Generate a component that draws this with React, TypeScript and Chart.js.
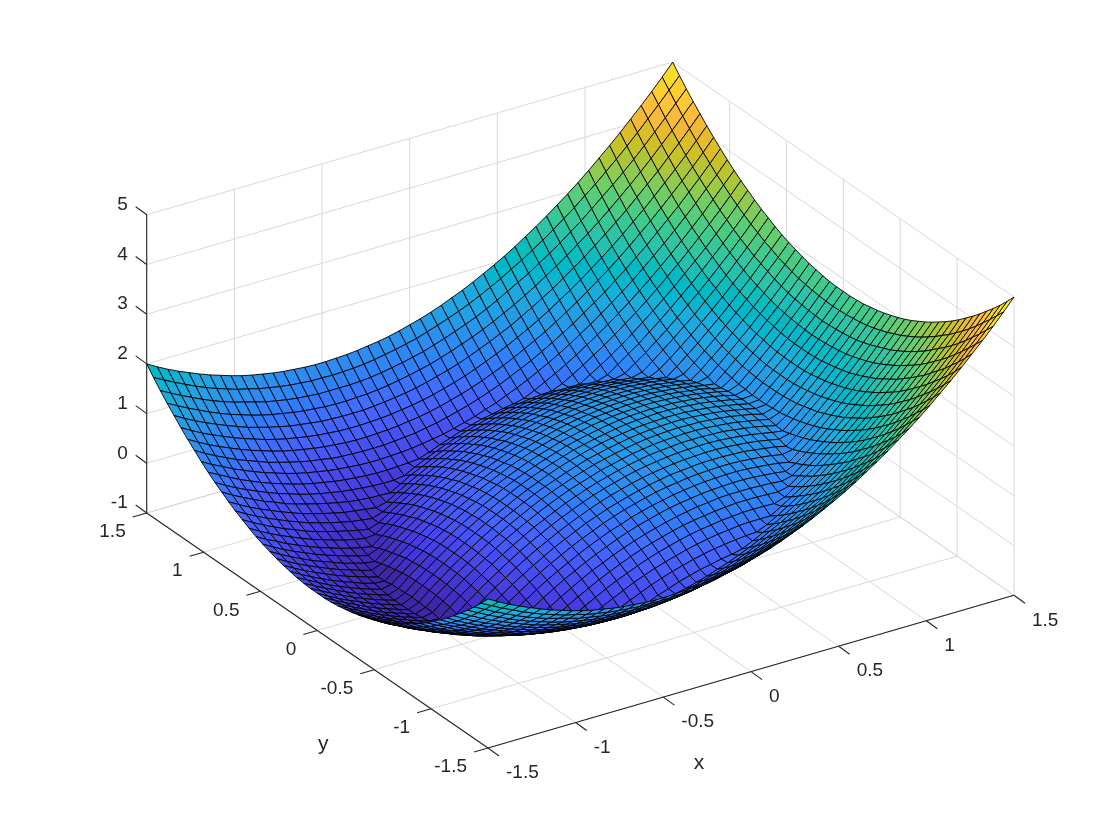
import React, { useEffect, useRef } from "react";
import { Chart, registerables } from "chart.js";
Chart.register(...registerables);

const xValues = [-1.5,-1.44,-1.38,-1.32,-1.26,-1.2,-1.14,-1.08,-1.02,-0.96,-0.9,-0.84,-0.78,-0.72,-0.66,-0.6,-0.54,-0.48,-0.42,-0.36,-0.3,-0.24,-0.18,-0.12,-0.06,0,0.06,0.12,0.18,0.24,0.3,0.36,0.42,0.48,0.54,0.6,0.66,0.72,0.78,0.84,0.9,0.96,1.02,1.08,1.14,1.2,1.26,1.32,1.38,1.44,1.5];
const yHalf = [0,0.06,0.12,0.18,0.24,0.3,0.36,0.42,0.48,0.54,0.6,0.66,0.72,0.78,0.84,0.9,0.96,1.02,1.08,1.14,1.2,1.26,1.32,1.38,1.44,1.5];
const zRows = [
[-.25,-.25,-.24,-.22,-.19,-.16,-.12,-.07,-.02,.04,.11,.19,.27,.36,.46,.56,.67,.79,.92,1.05,1.19,1.34,1.49,1.65,1.82,2],
[-.37,-.36,-.35,-.33,-.31,-.28,-.24,-.19,-.14,-.08,-.01,.07,.15,.24,.34,.44,.56,.67,.80,.93,1.07,1.22,1.38,1.54,1.71,1.88],
[-.48,-.47,-.46,-.44,-.42,-.39,-.35,-.30,-.25,-.18,-.12,-.04,.04,.13,.23,.33,.45,.57,.69,.82,.96,1.11,1.27,1.43,1.60,1.77],
[-.58,-.57,-.56,-.55,-.52,-.49,-.45,-.40,-.35,-.29,-.22,-.14,-.06,.03,.13,.23,.34,.46,.59,.72,.86,1.01,1.17,1.33,1.50,1.67],
[-.67,-.67,-.66,-.64,-.62,-.58,-.54,-.50,-.44,-.38,-.31,-.24,-.15,-.06,.03,.14,.25,.37,.49,.63,.77,.92,1.07,1.23,1.40,1.58],
[-.76,-.76,-.75,-.73,-.70,-.67,-.63,-.58,-.53,-.47,-.40,-.32,-.24,-.15,-.05,.05,.16,.28,.41,.54,.68,.83,.98,1.14,1.31,1.49],
[-.84,-.84,-.83,-.81,-.78,-.75,-.71,-.66,-.61,-.55,-.48,-.41,-.32,-.23,-.14,-.03,.08,.20,.33,.46,.60,.75,.90,1.06,1.23,1.41],
[-.91,-.91,-.90,-.88,-.86,-.82,-.78,-.74,-.68,-.62,-.55,-.48,-.40,-.31,-.21,-.10,.01,.13,.25,.39,.53,.67,.83,.99,1.16,1.34],
[-.98,-.98,-.97,-.95,-.92,-.89,-.85,-.80,-.75,-.69,-.62,-.54,-.46,-.37,-.27,-.17,-.06,.06,.19,.32,.46,.61,.76,.93,1.09,1.27],
[-.88,-.89,-.90,-.91,-.94,-.95,-.91,-.86,-.81,-.75,-.68,-.60,-.52,-.43,-.33,-.23,-.12,0,.13,.26,.40,.55,.70,.87,1.04,1.21],
[-.71,-.71,-.72,-.74,-.77,-.80,-.84,-.89,-.86,-.80,-.73,-.65,-.57,-.48,-.38,-.28,-.17,-.05,.08,.21,.35,.50,.65,.81,.98,1.16],
[-.55,-.55,-.56,-.58,-.60,-.64,-.68,-.72,-.78,-.84,-.77,-.70,-.62,-.53,-.43,-.32,-.21,-.09,.03,.17,.31,.45,.61,.77,.94,1.12],
[-.39,-.39,-.40,-.42,-.45,-.48,-.52,-.57,-.62,-.68,-.75,-.74,-.65,-.56,-.47,-.36,-.25,-.13,0,.13,.27,.42,.57,.73,.90,1.08],
[-.24,-.24,-.25,-.27,-.30,-.33,-.37,-.42,-.47,-.53,-.60,-.67,-.68,-.59,-.50,-.39,-.28,-.16,-.04,.10,.24,.39,.54,.70,.87,1.05],
[-.10,-.10,-.11,-.13,-.15,-.19,-.23,-.27,-.33,-.39,-.46,-.53,-.61,-.62,-.52,-.41,-.30,-.18,-.06,.08,.22,.36,.52,.68,.85,1.03],
[.04,.04,.03,.01,-.02,-.05,-.09,-.14,-.19,-.25,-.32,-.40,-.48,-.57,-.53,-.43,-.32,-.20,-.07,.06,.20,.35,.50,.66,.83,1.01],
[.17,.17,.15,.14,.11,.08,.04,-.01,-.06,-.12,-.19,-.27,-.35,-.44,-.54,-.44,-.33,-.21,-.08,.05,.19,.34,.49,.66,.83,1.00],
[.29,.29,.28,.26,.23,.20,.16,.11,.06,0,-.07,-.15,-.23,-.32,-.42,-.44,-.33,-.21,-.08,.05,.19,.34,.49,.66,.82,1.00],
[.40,.40,.39,.37,.35,.31,.27,.23,.17,.11,.04,-.03,-.12,-.21,-.30,-.41,-.32,-.20,-.08,.06,.20,.34,.50,.66,.83,1.01],
[.51,.51,.50,.48,.45,.42,.38,.33,.28,.22,.15,.08,-.01,-.10,-.20,-.30,-.31,-.19,-.06,.07,.21,.36,.51,.67,.84,1.02],
[.61,.61,.60,.58,.55,.52,.48,.43,.38,.32,.25,.17,.09,0,-.10,-.20,-.29,-.17,-.04,.09,.23,.38,.53,.69,.86,1.04],
[.70,.70,.69,.67,.65,.61,.57,.53,.47,.41,.34,.27,.18,.09,0,-.11,-.22,-.14,-.02,.12,.26,.41,.56,.72,.89,1.07],
[.79,.78,.77,.76,.73,.70,.66,.61,.56,.50,.43,.35,.27,.18,.08,-.02,-.13,-.11,.02,.15,.29,.44,.60,.76,.93,1.10],
[.87,.86,.85,.83,.81,.78,.74,.69,.64,.57,.51,.43,.35,.26,.16,.06,-.06,-.07,.06,.19,.33,.48,.64,.80,.97,1.14],
[.94,.93,.92,.90,.88,.85,.81,.76,.71,.65,.58,.50,.42,.33,.23,.13,.02,-.02,.11,.24,.38,.53,.69,.85,1.02,1.19],
[1,1,.99,.97,.94,.91,.87,.82,.77,.71,.64,.56,.48,.39,.29,.19,.08,.04,.17,.30,.44,.59,.74,.90,1.07,1.25],
[1.06,1.05,1.04,1.02,1.00,.97,.93,.88,.83,.77,.70,.62,.54,.45,.35,.25,.14,.10,.23,.36,.50,.65,.81,.97,1.14,1.31],
[1.11,1.10,1.09,1.07,1.05,1.02,.98,.93,.88,.81,.75,.67,.59,.50,.40,.30,.18,.18,.30,.43,.57,.72,.88,1.04,1.21,1.38],
[1.15,1.14,1.13,1.12,1.09,1.06,1.02,.97,.92,.86,.79,.71,.63,.54,.44,.34,.23,.25,.38,.51,.65,.80,.96,1.12,1.29,1.46],
[1.18,1.18,1.17,1.15,1.13,1.09,1.05,1.01,.95,.89,.82,.75,.66,.57,.48,.37,.26,.34,.46,.60,.74,.89,1.04,1.20,1.37,1.55],
[1.21,1.21,1.20,1.18,1.15,1.12,1.08,1.03,.98,.92,.85,.77,.69,.60,.50,.40,.31,.43,.56,.69,.83,.98,1.13,1.29,1.46,1.64],
[1.23,1.23,1.22,1.20,1.17,1.14,1.10,1.05,1.00,.94,.87,.80,.71,.62,.53,.42,.41,.53,.66,.79,.93,1.08,1.23,1.39,1.56,1.74],
[1.24,1.24,1.23,1.21,1.19,1.15,1.11,1.07,1.01,.95,.88,.81,.73,.64,.54,.43,.52,.64,.76,.90,1.04,1.18,1.34,1.50,1.67,1.85],
[1.25,1.25,1.24,1.22,1.19,1.16,1.12,1.07,1.02,.96,.89,.81,.73,.64,.54,.52,.63,.75,.88,1.01,1.15,1.30,1.45,1.62,1.78,1.96],
[1.25,1.25,1.23,1.22,1.19,1.16,1.12,1.07,1.02,.96,.89,.81,.73,.64,.54,.64,.75,.87,1.00,1.13,1.27,1.42,1.57,1.74,1.91,2.08],
[1.24,1.24,1.23,1.21,1.18,1.15,1.11,1.06,1.01,.95,.88,.80,.72,.63,.67,.77,.88,1.00,1.13,1.26,1.40,1.55,1.70,1.86,2.03,2.21],
[1.22,1.22,1.21,1.19,1.17,1.13,1.09,1.05,.99,.93,.86,.79,.71,.70,.80,.91,1.02,1.14,1.26,1.40,1.54,1.68,1.84,2.00,2.17,2.35],
[1.20,1.20,1.19,1.17,1.14,1.11,1.07,1.02,.97,.91,.84,.77,.76,.85,.94,1.05,1.16,1.28,1.41,1.54,1.68,1.83,1.98,2.14,2.31,2.49],
[1.17,1.17,1.16,1.14,1.11,1.08,1.04,.99,.94,.88,.81,.82,.91,1.00,1.09,1.20,1.31,1.43,1.56,1.69,1.83,1.98,2.13,2.29,2.46,2.64],
[1.13,1.13,1.12,1.10,1.08,1.04,1.00,.96,.90,.84,.91,.98,1.06,1.15,1.25,1.36,1.47,1.59,1.71,1.85,1.99,2.13,2.29,2.45,2.62,2.80],
[1.09,1.09,1.08,1.06,1.03,1.00,.96,.91,.94,1.00,1.07,1.15,1.23,1.32,1.42,1.52,1.63,1.75,1.88,2.01,2.15,2.30,2.45,2.61,2.78,2.96],
[1.04,1.04,1.02,1.01,.98,.97,1.01,1.06,1.11,1.17,1.24,1.32,1.40,1.49,1.59,1.69,1.80,1.92,2.05,2.18,2.32,2.47,2.62,2.79,2.96,3.13],
[1.06,1.06,1.08,1.09,1.12,1.15,1.19,1.24,1.29,1.35,1.42,1.50,1.58,1.67,1.77,1.87,1.98,2.10,2.23,2.36,2.50,2.65,2.80,2.97,3.13,3.31],
[1.25,1.25,1.26,1.28,1.30,1.34,1.38,1.42,1.48,1.54,1.61,1.68,1.77,1.86,1.95,2.06,2.17,2.29,2.41,2.55,2.69,2.83,2.99,3.15,3.32,3.50],
[1.44,1.44,1.45,1.47,1.50,1.53,1.57,1.62,1.67,1.73,1.80,1.88,1.96,2.05,2.15,2.25,2.36,2.48,2.61,2.74,2.88,3.03,3.18,3.34,3.51,3.69],
[1.64,1.64,1.65,1.67,1.70,1.73,1.77,1.82,1.87,1.93,2,2.08,2.16,2.25,2.35,2.45,2.56,2.68,2.81,2.94,3.08,3.23,3.38,3.54,3.71,3.89],
[1.85,1.85,1.86,1.88,1.91,1.94,1.98,2.02,2.08,2.14,2.21,2.28,2.37,2.46,2.55,2.66,2.77,2.89,3.01,3.15,3.29,3.43,3.59,3.75,3.92,4.10],
[2.06,2.07,2.08,2.10,2.12,2.15,2.19,2.24,2.29,2.35,2.42,2.50,2.58,2.67,2.77,2.87,2.98,3.10,3.23,3.36,3.50,3.65,3.81,3.97,4.14,4.31],
[2.28,2.29,2.30,2.32,2.34,2.37,2.41,2.46,2.52,2.58,2.64,2.72,2.80,2.89,2.99,3.09,3.21,3.33,3.45,3.58,3.72,3.87,4.03,4.19,4.36,4.53],
[2.51,2.52,2.53,2.55,2.57,2.60,2.64,2.69,2.74,2.81,2.87,2.95,3.03,3.12,3.22,3.32,3.44,3.55,3.68,3.81,3.95,4.10,4.26,4.42,4.59,4.76],
[2.75,2.75,2.76,2.78,2.81,2.84,2.88,2.93,2.98,3.04,3.11,3.19,3.27,3.36,3.46,3.56,3.67,3.79,3.92,4.05,4.19,4.34,4.49,4.65,4.82,5],
];
const xTicks = [-1.5,-1,-0.5,0,0.5,1,1.5];
const yTicks = [-1.5,-1,-0.5,0,0.5,1,1.5];
const zTicks = [-1,0,1,2,3,4,5];
const parula = [[.2422,.1504,.6603],[.2504,.165,.7076],[.2578,.1818,.7511],[.2647,.1978,.7952],[.2706,.2147,.8364],[.2751,.2342,.871],[.2783,.2559,.8991],[.2803,.2782,.9221],[.2813,.3006,.9414],[.281,.3228,.9579],[.2795,.3447,.9717],[.276,.3667,.9829],[.2699,.3892,.9906],[.2602,.4123,.9952],[.244,.4358,.9988],[.2206,.4603,.9973],[.1963,.4847,.9892],[.1834,.5074,.9798],[.1786,.5289,.9682],[.1764,.5499,.952],[.1687,.5703,.9359],[.154,.5902,.9218],[.146,.6091,.9079],[.138,.6276,.8973],[.1248,.6459,.8883],[.1113,.6635,.8763],[.0952,.6798,.8598],[.0689,.6948,.8394],[.0297,.7082,.8163],[.0036,.7203,.7917],[.0067,.7312,.766],[.0433,.7411,.7394],[.0964,.75,.712],[.1408,.7584,.6842],[.1717,.767,.6554],[.1938,.7758,.6251],[.2161,.7843,.5923],[.247,.7918,.5567],[.2906,.7973,.5188],[.3406,.8008,.4789],[.3909,.8029,.4354],[.4456,.8024,.3909],[.5044,.7993,.348],[.5616,.7942,.3045],[.6174,.7876,.2612],[.672,.7793,.2227],[.7242,.7698,.191],[.7738,.7598,.1646],[.8203,.7498,.1535],[.8634,.7406,.1596],[.9035,.733,.1774],[.9393,.7288,.21],[.9728,.7298,.2394],[.9956,.7434,.2371],[.997,.7659,.2199],[.9952,.7893,.2028],[.9892,.8136,.1885],[.9786,.8386,.1766],[.9676,.8639,.1643],[.961,.889,.1537],[.9597,.9135,.1423],[.9628,.9373,.1265],[.9691,.9606,.1064],[.9769,.9839,.0805]];

const project = (x: number, y: number, z: number) => {
  const tx = (x + 1.5) / 3, ty = (y + 1.5) / 3;
  return { x: 488 + 526 * tx - 341.3 * ty, y: 748 - 152.7 * tx - 235 * ty - 49.7 * (z + 1) };
};
const depth = (x: number, y: number, z: number) => -0.1644 * x - 0.2511 * y + 0.039 * z;
const colorFor = (z: number) => {
  const t = Math.max(0, Math.min(1, (z + 1) / 6));
  const c = parula[Math.min(63, Math.floor(t * 63))];
  return `rgb(${Math.round(c[0] * 255)},${Math.round(c[1] * 255)},${Math.round(c[2] * 255)})`;
};
const yValues = [...yHalf.slice(1).reverse().map((v) => -v), ...yHalf];
const zAt = (i: number, j: number) => zRows[i][Math.abs(j - (yHalf.length - 1))];

const surface3d = {
  id: "surface3d",
  beforeDatasetsDraw(chart: any) {
    const { ctx, scales } = chart;
    const P = (x: number, y: number, z: number) => {
      const p = project(x, y, z);
      return [scales.x.getPixelForValue(p.x), scales.y.getPixelForValue(p.y)];
    };
    const seg = (a: number[], b: number[], color: string, w = 1) => {
      ctx.strokeStyle = color; ctx.lineWidth = w;
      ctx.beginPath(); ctx.moveTo(a[0], a[1]); ctx.lineTo(b[0], b[1]); ctx.stroke();
    };
    const grid = "#d8d8d8", axis = "#262626";
    ctx.save();
    for (const v of xTicks) {
      seg(P(v, -1.5, -1), P(v, 1.5, -1), grid);
      seg(P(v, 1.5, -1), P(v, 1.5, 5), grid);
    }
    for (const v of yTicks) {
      seg(P(-1.5, v, -1), P(1.5, v, -1), grid);
      seg(P(1.5, v, -1), P(1.5, v, 5), grid);
    }
    for (const v of zTicks) {
      seg(P(-1.5, 1.5, v), P(1.5, 1.5, v), grid);
      seg(P(1.5, 1.5, v), P(1.5, -1.5, v), grid);
    }
    seg(P(-1.5, -1.5, -1), P(1.5, -1.5, -1), axis, 1.1);
    seg(P(-1.5, -1.5, -1), P(-1.5, 1.5, -1), axis, 1.1);
    seg(P(-1.5, 1.5, -1), P(-1.5, 1.5, 5), axis, 1.1);
    ctx.fillStyle = "#262626";
    ctx.textBaseline = "middle";
    ctx.font = '19px "Liberation Sans"';
    for (const v of xTicks) {
      const a = P(v, -1.5, -1);
      seg(a, [a[0] + 11, a[1] + 8], axis, 1.1);
      ctx.textAlign = "left"; ctx.fillText(String(v), a[0] + 18, a[1] + 25);
    }
    for (const v of yTicks) {
      const a = P(-1.5, v, -1);
      seg(a, [a[0] - 14, a[1] + 4], axis, 1.1);
      ctx.textAlign = "right"; ctx.fillText(String(v), a[0] - 21, a[1] + 19);
    }
    for (const v of zTicks) {
      const a = P(-1.5, 1.5, v);
      seg(a, [a[0] - 11, a[1] - 8], axis, 1.1);
      ctx.textAlign = "right"; ctx.fillText(String(v), a[0] - 19, a[1] - 10);
    }
    ctx.font = '21px "Liberation Sans"';
    ctx.textAlign = "center";
    const xl = P(0, -1.5, -1), yl = P(-1.5, 0, -1);
    ctx.fillText("x", xl[0] - 52, xl[1] + 92);
    ctx.fillText("y", yl[0] + 6, yl[1] + 114);
    ctx.restore();
  },
  afterDatasetsDraw(chart: any) {
    const { ctx, scales } = chart;
    const pts = chart.data.datasets[0].data;
    const ny = yValues.length, nx = xValues.length;
    const vx = (i: number, j: number) => {
      const p = pts[i * ny + j];
      return [scales.x.getPixelForValue(p.x), scales.y.getPixelForValue(p.y)];
    };
    const cells: any[] = [];
    for (let i = 0; i < nx - 1; i++) for (let j = 0; j < ny - 1; j++) {
      const zs = [zAt(i, j), zAt(i + 1, j), zAt(i + 1, j + 1), zAt(i, j + 1)];
      const d = depth((xValues[i] + xValues[i + 1]) / 2, (yValues[j] + yValues[j + 1]) / 2, (zs[0] + zs[1] + zs[2] + zs[3]) / 4);
      cells.push({ i, j, d, c: colorFor(zs[0]) });
    }
    cells.sort((a, b) => a.d - b.d);
    ctx.save();
    ctx.lineJoin = "round";
    ctx.strokeStyle = "rgba(0,0,0,0.9)";
    ctx.lineWidth = 1;
    for (const c of cells) {
      const q = [vx(c.i, c.j), vx(c.i + 1, c.j), vx(c.i + 1, c.j + 1), vx(c.i, c.j + 1)];
      ctx.beginPath();
      ctx.moveTo(q[0][0], q[0][1]);
      for (let k = 1; k < 4; k++) ctx.lineTo(q[k][0], q[k][1]);
      ctx.closePath();
      ctx.fillStyle = c.c;
      ctx.fill();
      ctx.stroke();
    }
    ctx.restore();
  },
};

export default function App() {
  const ref = useRef<HTMLCanvasElement>(null);
  useEffect(() => {
    const vertices: { x: number; y: number }[] = [];
    xValues.forEach((x, i) => yValues.forEach((y, j) => vertices.push(project(x, y, zAt(i, j)))));
    const chart = new Chart(ref.current as HTMLCanvasElement, {
      type: "scatter",
      data: { datasets: [{ data: vertices, pointRadius: 0, showLine: false }] },
      options: {
        animation: false, responsive: false,
        layout: { padding: 0 },
        plugins: { legend: { display: false }, tooltip: { enabled: false } },
        scales: {
          x: { type: "linear", min: 0, max: 1120, display: false },
          y: { type: "linear", min: 0, max: 840, reverse: true, display: false },
        },
      },
      plugins: [surface3d],
    } as any);
    return () => chart.destroy();
  }, []);
  return (
    <div style={{ position: "fixed", left: 0, top: 0, width: 1120, height: 840, background: "#fff" }}>
      <canvas ref={ref} width={1120} height={840} style={{ display: "block" }} />
    </div>
  );
}
